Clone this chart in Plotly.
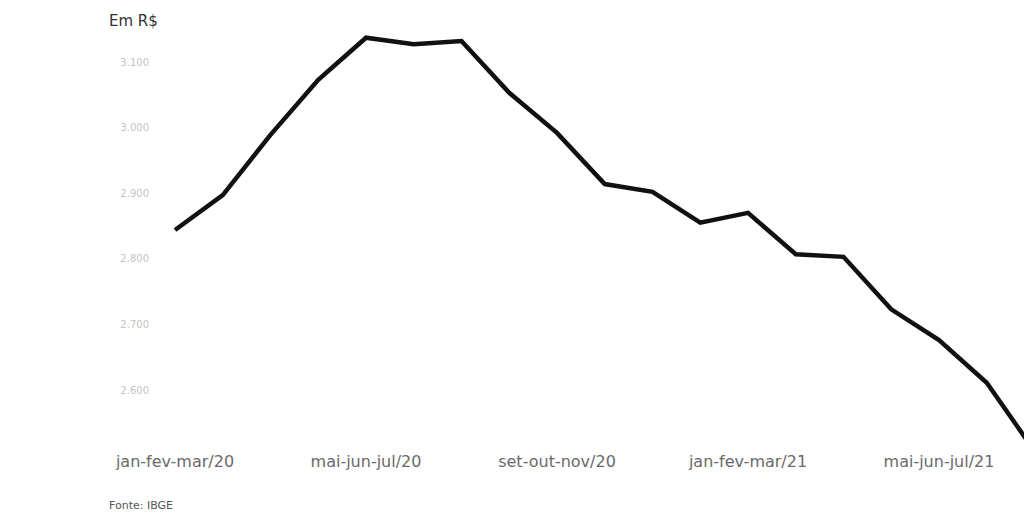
import plotly.graph_objects as go

periods = [
    "jan-fev-mar/20", "fev-mar-abr/20", "mar-abr-mai/20", "abr-mai-jun/20",
    "mai-jun-jul/20", "jun-jul-ago/20", "jul-ago-set/20", "ago-set-out/20",
    "set-out-nov/20", "out-nov-dez/20", "nov-dez-jan/21", "dez-jan-fev/21",
    "jan-fev-mar/21", "fev-mar-abr/21", "mar-abr-mai/21", "abr-mai-jun/21",
    "mai-jun-jul/21", "jun-jul-ago/21", "jul-ago-set/21",
]
renda = [2844, 2897, 2989, 3073, 3137, 3127, 3132, 3053, 2992, 2914,
         2902, 2855, 2870, 2807, 2803, 2723, 2676, 2611, 2507]
y_ticks = [2600, 2700, 2800, 2900, 3000, 3100]
x_ticks = periods[::4]

fig = go.Figure()
fig.add_trace(go.Scatter(
    x=periods, y=renda, mode="lines",
    line=dict(color="#111111", width=4.5),
    hoverinfo="x+y",
))

fig.update_layout(
    width=1024, height=514,
    margin=dict(l=160, r=0, t=30, b=74),
    paper_bgcolor="white", plot_bgcolor="white",
    separators=",.",
    showlegend=False,
    font=dict(family="DejaVu Sans", color="#555555"),
)
fig.update_xaxes(
    type="category",
    range=[-0.314, 17.78],
    tickmode="array", tickvals=x_ticks, ticktext=x_ticks,
    showgrid=False, zeroline=False, showline=False,
    ticks="outside", ticklen=7, tickcolor="white",
    tickfont=dict(size=16, color="#6a6a6a"),
)
fig.update_yaxes(
    range=[2523.8, 3148.8],
    tickmode="array", tickvals=y_ticks, tickformat=",d",
    showgrid=False, zeroline=False, showline=False,
    ticks="outside", ticklen=8, tickcolor="white",
    tickfont=dict(size=10, color="#c4c4c4"),
)
fig.add_annotation(
    text="Em R$", xref="paper", yref="paper", x=-0.061, y=1.0,
    xanchor="left", yanchor="bottom", yshift=-2, showarrow=False,
    font=dict(size=15, color="#333333"),
)
fig.add_annotation(
    text="Fonte: IBGE", xref="paper", yref="paper", x=-0.061, y=0,
    xanchor="left", yanchor="top", yshift=-57, showarrow=False,
    font=dict(size=11, color="#555555"),
)

fig.write_html(
    "out.html",
    config={"displayModeBar": False},
    post_script="document.body.style.margin='0';document.body.style.overflow='hidden';",
)
